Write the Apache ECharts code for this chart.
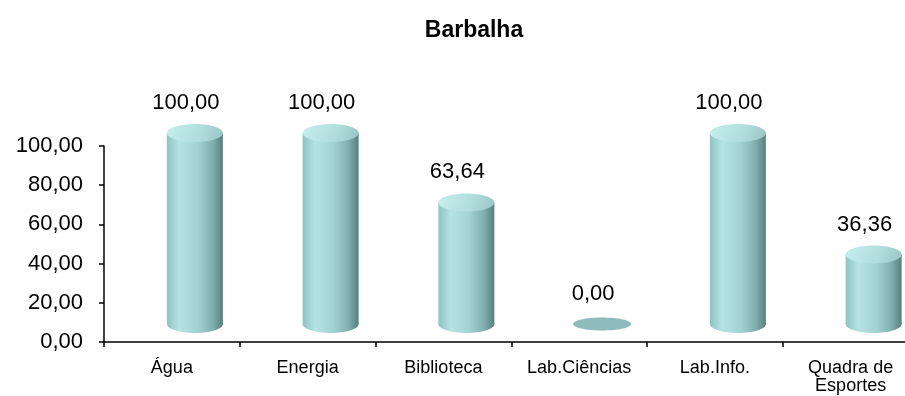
<!DOCTYPE html>
<html>
<head>
<meta charset="utf-8">
<script src="https://cdn.jsdelivr.net/npm/echarts@6/dist/echarts.min.js"></script>
<style>
  html, body { margin: 0; padding: 0; background: #fff; overflow: hidden; }
  /* the plot area runs a little past the right edge of the window */
  #chart { width: 925px; height: 396px; }
</style>
</head>
<body>
<div id="chart"></div>
<script>
// Barbalha: share of schools with each facility (%)
const titleText = 'Barbalha';
const categories = ['Água', 'Energia', 'Biblioteca', 'Lab.Ciências', 'Lab.Info.', 'Quadra de\nEsportes'];
const values = [100.00, 100.00, 63.64, 0.00, 100.00, 36.36];
const yTicks = [0, 20, 40, 60, 80, 100];

const FONT = 'Liberation Sans, Arial, sans-serif';
const fmt = v => v.toFixed(2).replace('.', ',');

// cylinder body: light cyan highlight on the left, shading to dark teal on the right
const bodyGradient = new echarts.graphic.LinearGradient(0, 0, 1, 0, [
  { offset: 0, color: '#90c2c2' },
  { offset: 0.22, color: '#b5e3e3' },
  { offset: 0.55, color: '#a3d2d2' },
  { offset: 0.82, color: '#81aeae' },
  { offset: 1, color: '#587f7f' }
]);
const topGradient = new echarts.graphic.LinearGradient(0, 0, 1, 1, [
  { offset: 0, color: '#c6efef' },
  { offset: 0.6, color: '#b0dcdc' },
  { offset: 1, color: '#98c4c4' }
]);

function renderCylinder(params, api) {
  const idx = api.value(0);
  const val = api.value(1);
  const c0 = api.coord([idx, 0]);
  const cv = api.coord([idx, val]);
  // depth offset of the 3D floor
  const cx = c0[0] + 23;
  const baseY = c0[1] - 18;
  const topY = baseY - (c0[1] - cv[1]) * 0.975;
  const rx = 28, ry = 9;
  const children = [];
  if (val > 0) {
    children.push({
      type: 'ellipse',
      shape: { cx: cx, cy: baseY, rx: rx, ry: ry },
      style: { fill: bodyGradient }
    });
    children.push({
      type: 'rect',
      shape: { x: cx - rx, y: topY, width: rx * 2, height: baseY - topY },
      style: { fill: bodyGradient }
    });
    children.push({
      type: 'ellipse',
      shape: { cx: cx, cy: topY, rx: rx, ry: ry },
      style: { fill: topGradient }
    });
  } else {
    children.push({
      type: 'ellipse',
      shape: { cx: cx, cy: baseY, rx: 29, ry: 6.5 },
      style: { fill: '#8ebcbc' }
    });
  }
  children.push({
    type: 'text',
    style: {
      x: c0[0] + 14,
      y: topY - 30,
      text: fmt(val),
      align: 'center',
      verticalAlign: 'middle',
      fill: '#000',
      font: '22px ' + FONT
    }
  });
  return { type: 'group', children: children };
}

const chart = echarts.init(document.getElementById('chart'), null, { renderer: 'canvas' });
chart.setOption({
  animation: false,
  backgroundColor: '#ffffff',
  graphic: [{
    type: 'text',
    x: 474,
    y: 31,
    style: {
      text: titleText,
      align: 'center',
      verticalAlign: 'middle',
      fill: '#000',
      font: 'bold 23px ' + FONT
    }
  }],
  grid: { left: 104, top: 146, height: 196, width: 814.5, containLabel: false },
  xAxis: {
    type: 'category',
    data: categories,
    boundaryGap: true,
    axisLine: { lineStyle: { color: '#000', width: 1.5 } },
    axisTick: { show: true, alignWithLabel: false, length: 5, lineStyle: { color: '#000', width: 1.5 } },
    axisLabel: {
      color: '#000', fontFamily: FONT, fontSize: 18, margin: 17, lineHeight: 18,
      interval: 0
    },
    splitLine: { show: false }
  },
  yAxis: {
    type: 'value',
    min: yTicks[0],
    max: yTicks[yTicks.length - 1],
    interval: yTicks[1] - yTicks[0],
    axisLine: { show: true, lineStyle: { color: '#000', width: 1.5 } },
    axisTick: { show: true, length: 5, lineStyle: { color: '#000', width: 1.5 } },
    axisLabel: { color: '#000', fontFamily: FONT, fontSize: 22, margin: 21, formatter: v => fmt(v) },
    splitLine: { show: false }
  },
  series: [{
    type: 'custom',
    renderItem: renderCylinder,
    data: values.map((v, i) => [i, v]),
    clip: false
  }]
});
</script>
</body>
</html>
